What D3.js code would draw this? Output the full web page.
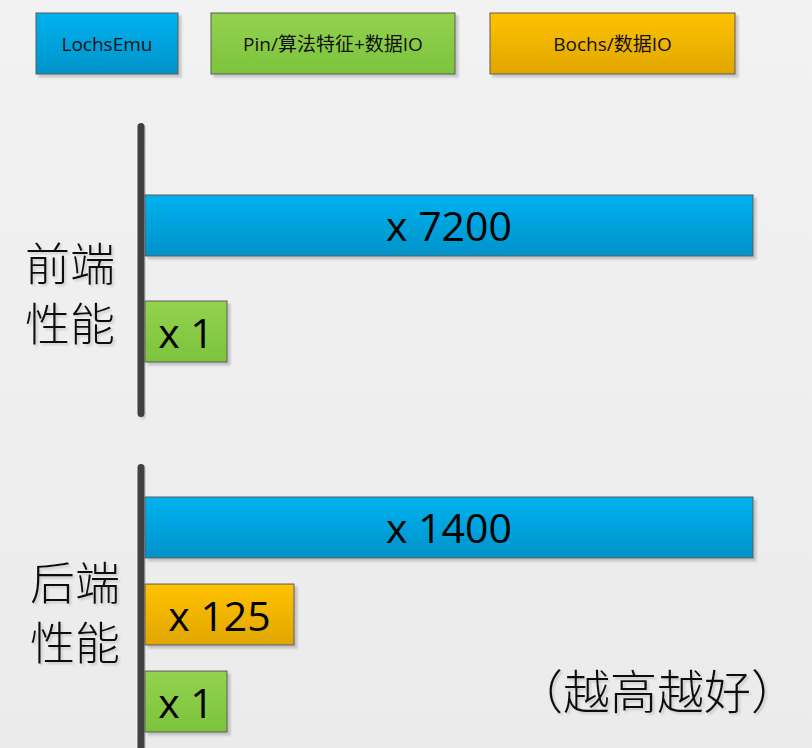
<!DOCTYPE html>
<html>
<head>
<meta charset="utf-8">
<script src="https://cdn.jsdelivr.net/npm/d3@7"></script>
<style>
  html, body { margin: 0; padding: 0; background: #efefef; }
  svg { display: block; }
</style>
</head>
<body>
<div id="chart"></div>
<script>
// series (legend order) and their colours
var series = ["LochsEmu", "Pin/算法特征+数据IO", "Bochs/数据IO"];
var groups = ["前端性能", "后端性能"];

// speed-up values per group, in drawing order
var frontSeries = ["LochsEmu", "Pin/算法特征+数据IO"];
var frontValues = [7200, 1];
var backSeries = ["LochsEmu", "Bochs/数据IO", "Pin/算法特征+数据IO"];
var backValues = [1400, 125, 1];

var note = "（越高越好）";

var width = 812, height = 748;

var svg = d3.select("#chart").append("svg")
  .attr("width", width)
  .attr("height", height);

var defs = svg.append("defs");

// background, a faint vertical gradient
var bg = defs.append("linearGradient").attr("id", "bg")
  .attr("x1", 0).attr("y1", 0).attr("x2", 0).attr("y2", 1);
bg.append("stop").attr("offset", "0%").attr("stop-color", "#f2f2f2");
bg.append("stop").attr("offset", "100%").attr("stop-color", "#ebebeb");
svg.append("rect").attr("width", width).attr("height", height).attr("fill", "url(#bg)");

var colors = d3.scaleOrdinal()
  .domain(series)
  .range([["#00b2f0", "#0093c9"], ["#94d24f", "#7cc33c"], ["#ffc200", "#e0a600"]]);

series.forEach(function(s, i) {
  var g = defs.append("linearGradient").attr("id", "grad" + i)
    .attr("x1", 0).attr("y1", 0).attr("x2", 0).attr("y2", 1);
  g.append("stop").attr("offset", "0%").attr("stop-color", colors(s)[0]);
  g.append("stop").attr("offset", "100%").attr("stop-color", colors(s)[1]);
});
function fillFor(s) { return "url(#grad" + series.indexOf(s) + ")"; }

var shadow = defs.append("filter").attr("id", "shadow")
  .attr("x", "-10%").attr("y", "-10%").attr("width", "130%").attr("height", "140%");
shadow.append("feDropShadow").attr("dx", 3).attr("dy", 3).attr("stdDeviation", 1.2)
  .attr("flood-color", "#000").attr("flood-opacity", 0.18);

var textShadow = defs.append("filter").attr("id", "tshadow")
  .attr("x", "-10%").attr("y", "-10%").attr("width", "130%").attr("height", "140%");
textShadow.append("feDropShadow").attr("dx", 2).attr("dy", 2).attr("stdDeviation", 1)
  .attr("flood-color", "#000").attr("flood-opacity", 0.15);

// legend
var legendX = [36, 211, 490], legendW = [142, 244, 245];
var legend = svg.append("g").selectAll("g")
  .data(series)
  .join("g")
  .attr("transform", function(d, i) { return "translate(" + legendX[i] + ",13)"; });

legend.append("rect")
  .attr("width", function(d, i) { return legendW[i]; })
  .attr("height", 61)
  .attr("fill", fillFor)
  .attr("stroke", "#5a5a5a")
  .attr("stroke-width", 1)
  .attr("filter", "url(#shadow)");

legend.append("text")
  .attr("x", function(d, i) { return legendW[i] / 2; })
  .attr("y", 31)
  .attr("text-anchor", "middle")
  .attr("dominant-baseline", "central")
  .attr("font-family", "'Open Sans', 'Noto Sans CJK SC', sans-serif")
  .attr("font-size", 19)
  .attr("fill", "#111")
  .text(function(d) { return d; });

// bar length: not to scale in the slide, so a clamped piecewise scale
var xScale = d3.scaleLinear()
  .domain([1, 125, 1400])
  .range([82, 149, 608])
  .clamp(true);

var axisX = 141, barX = 145;

function drawGroup(label, keys, values, axisRange, bandRange, labelX, labelY) {
  var g = svg.append("g");

  var yScale = d3.scaleBand()
    .domain(keys)
    .range(bandRange)
    .paddingInner(keys.length > 2 ? 0.3 : 0.425);

  // vertical axis line, drawn as a rounded bar
  g.append("rect")
    .attr("x", axisX - 3.5)
    .attr("y", axisRange[0])
    .attr("width", 7)
    .attr("height", axisRange[1] - axisRange[0])
    .attr("rx", 3.5)
    .attr("fill", "#404040")
    .attr("filter", "url(#tshadow)");

  var rows = g.selectAll("g.bar")
    .data(keys.map(function(k, i) { return { key: k, value: values[i] }; }))
    .join("g")
    .attr("class", "bar");

  rows.append("rect")
    .attr("x", barX)
    .attr("y", function(d) { return yScale(d.key); })
    .attr("width", function(d) { return xScale(d.value); })
    .attr("height", yScale.bandwidth())
    .attr("fill", function(d) { return fillFor(d.key); })
    .attr("stroke", "#5a5a5a")
    .attr("stroke-width", 1)
    .attr("filter", "url(#shadow)");

  rows.append("text")
    .attr("x", function(d) { return barX + xScale(d.value) / 2; })
    .attr("y", function(d) { return yScale(d.key) + yScale.bandwidth() / 2; })
    .attr("text-anchor", "middle")
    .attr("dominant-baseline", "central")
    .attr("font-family", "'Open Sans', sans-serif")
    .attr("font-size", 41)
    .attr("fill", "#000")
    .text(function(d) { return "x " + d.value; });

  // group label on two lines
  var t = g.append("text")
    .attr("font-family", "'Noto Sans CJK SC', sans-serif")
    .attr("font-weight", 300)
    .attr("font-size", 45)
    .attr("fill", "#111")
    .attr("filter", "url(#tshadow)");
  [label.slice(0, 2), label.slice(2)].forEach(function(s, i) {
    t.append("tspan")
      .attr("x", labelX)
      .attr("y", labelY + i * 60)
      .attr("dominant-baseline", "central")
      .text(s);
  });
}

drawGroup(groups[0], frontSeries, frontValues, [123, 417], [195, 362], 25, 261);
drawGroup(groups[1], backSeries, backValues, [464, 775], [497, 732], 30, 580);

svg.append("text")
  .attr("x", 516)
  .attr("y", 688)
  .attr("dominant-baseline", "central")
  .attr("font-family", "'Noto Sans CJK SC', sans-serif")
  .attr("font-weight", 300)
  .attr("font-size", 47)
  .attr("fill", "#111")
  .attr("filter", "url(#tshadow)")
  .text(note);
</script>
</body>
</html>
